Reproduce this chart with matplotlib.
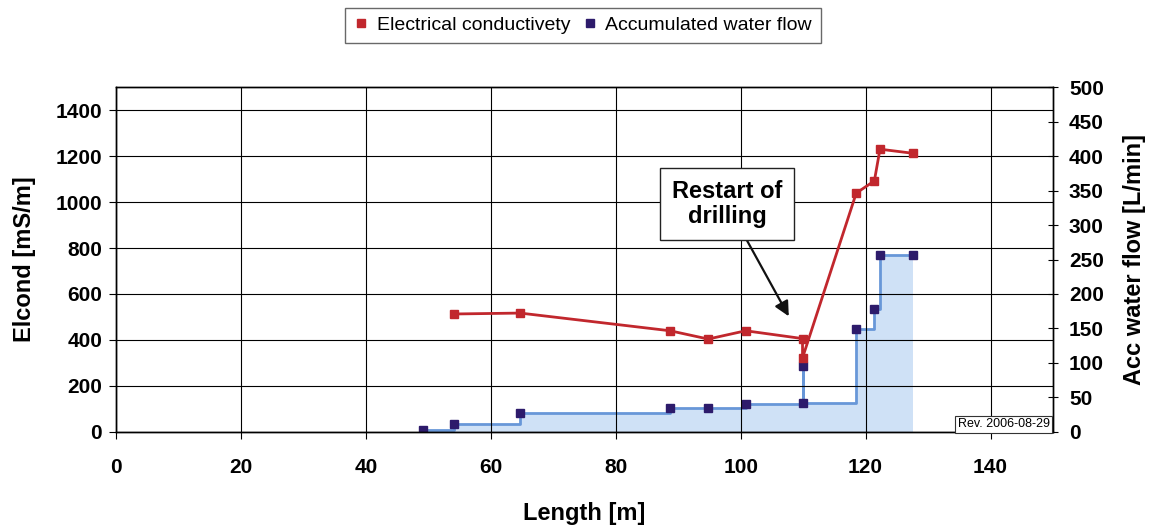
import matplotlib
matplotlib.use('Agg')
from matplotlib import pyplot as plt
from matplotlib.lines import Line2D

plt.rcParams['font.family'] = ['Liberation Sans', 'DejaVu Sans']

# electrical conductivity along the borehole
elcond_x = [54.1, 64.7, 88.7, 94.8, 100.8, 109.9, 109.9, 118.5, 121.4, 122.3, 127.6]
elcond = [513, 517, 440, 404, 440, 406, 322, 1039, 1092, 1230, 1212]

# accumulated water flow (step curve)
flow_x = [49.1, 54.1, 64.7, 88.7, 94.8, 100.8, 109.9, 109.9, 118.5, 121.4, 122.3, 127.6]
flow = [3, 12, 27, 34, 34, 40, 96, 42, 149, 178, 257, 257]

x_ticks = [0, 20, 40, 60, 80, 100, 120, 140]
left_ticks = [0, 200, 400, 600, 800, 1000, 1200, 1400]
right_ticks = [0, 50, 100, 150, 200, 250, 300, 350, 400, 450, 500]

red = '#c1272d'
navy = '#2d1b6b'
blue_line = '#6897d8'
blue_fill = '#cfe1f6'

fig = plt.figure(figsize=(11.54, 5.28), dpi=100)
ax = fig.add_axes([0.1005, 0.182, 0.812, 0.653])
ax2 = ax.twinx()

# flow on the right axis, drawn below the left axis
ax2.fill_between(flow_x, flow, step='post', color=blue_fill, lw=0)
ax2.step(flow_x, flow, where='post', color=blue_line, lw=2)
ax2.plot(flow_x, flow, ls='none', marker='s', ms=5.5, color=navy)

ax.plot(elcond_x, elcond, color=red, lw=2, marker='s', ms=5.5)

ax.set_zorder(ax2.get_zorder() + 1)
ax.patch.set_visible(False)

ax.set_xlim(0, 150)
ax.set_ylim(0, 1500)
ax2.set_ylim(0, 500)
ax.set_xticks(x_ticks)
ax.set_yticks(left_ticks)
ax2.set_yticks(right_ticks)
ax.grid(True, color='black', lw=0.8)

bold = dict(fontsize=15, fontweight='bold')
ax.set_xticklabels([str(t) for t in x_ticks], **bold)
ax.set_yticklabels([str(t) for t in left_ticks], **bold)
ax2.set_yticklabels([str(t) for t in right_ticks], **bold)
ax.tick_params(axis='x', direction='out', length=5, pad=14, width=0.8)
ax.tick_params(axis='y', direction='out', length=5, pad=5, width=0.8)
ax2.tick_params(axis='y', direction='inout', length=7, pad=8, width=0.8)

ax.set_xlabel('Length [m]', fontsize=17, fontweight='bold', labelpad=18)
ax.set_ylabel('Elcond [mS/m]', fontsize=17, fontweight='bold', labelpad=14)
ax2.set_ylabel('Acc water flow [L/min]', fontsize=17, fontweight='bold', labelpad=14)

for sp in list(ax.spines.values()) + list(ax2.spines.values()):
    sp.set_linewidth(1.0)

ax.annotate('Restart of\ndrilling', xy=(107.7, 503), xytext=(97.8, 991),
            ha='center', va='center', fontsize=17, fontweight='bold',
            linespacing=1.1,
            bbox=dict(boxstyle='square,pad=0.5', fc='white', ec='#222222', lw=1),
            arrowprops=dict(arrowstyle='-|>', color='#111111', lw=1.6,
                            mutation_scale=22, shrinkA=0, shrinkB=0))

ax.text(149.5, 8, 'Rev. 2006-08-29', ha='right', va='bottom', fontsize=9,
        bbox=dict(boxstyle='square,pad=0.2', fc='white', ec='#333333', lw=0.8))

handles = [Line2D([], [], ls='none', marker='s', ms=6, color=red),
           Line2D([], [], ls='none', marker='s', ms=6, color=navy)]
fig.legend(handles, ['Electrical conductivety', 'Accumulated water flow'],
           loc='center', bbox_to_anchor=(0.505, 0.952), ncol=2, fontsize=14,
           frameon=True, fancybox=False, edgecolor='#444444',
           handlelength=0.8, handletextpad=0.4, columnspacing=0.6,
           borderpad=0.45)

fig.savefig('out.png', dpi=100)
